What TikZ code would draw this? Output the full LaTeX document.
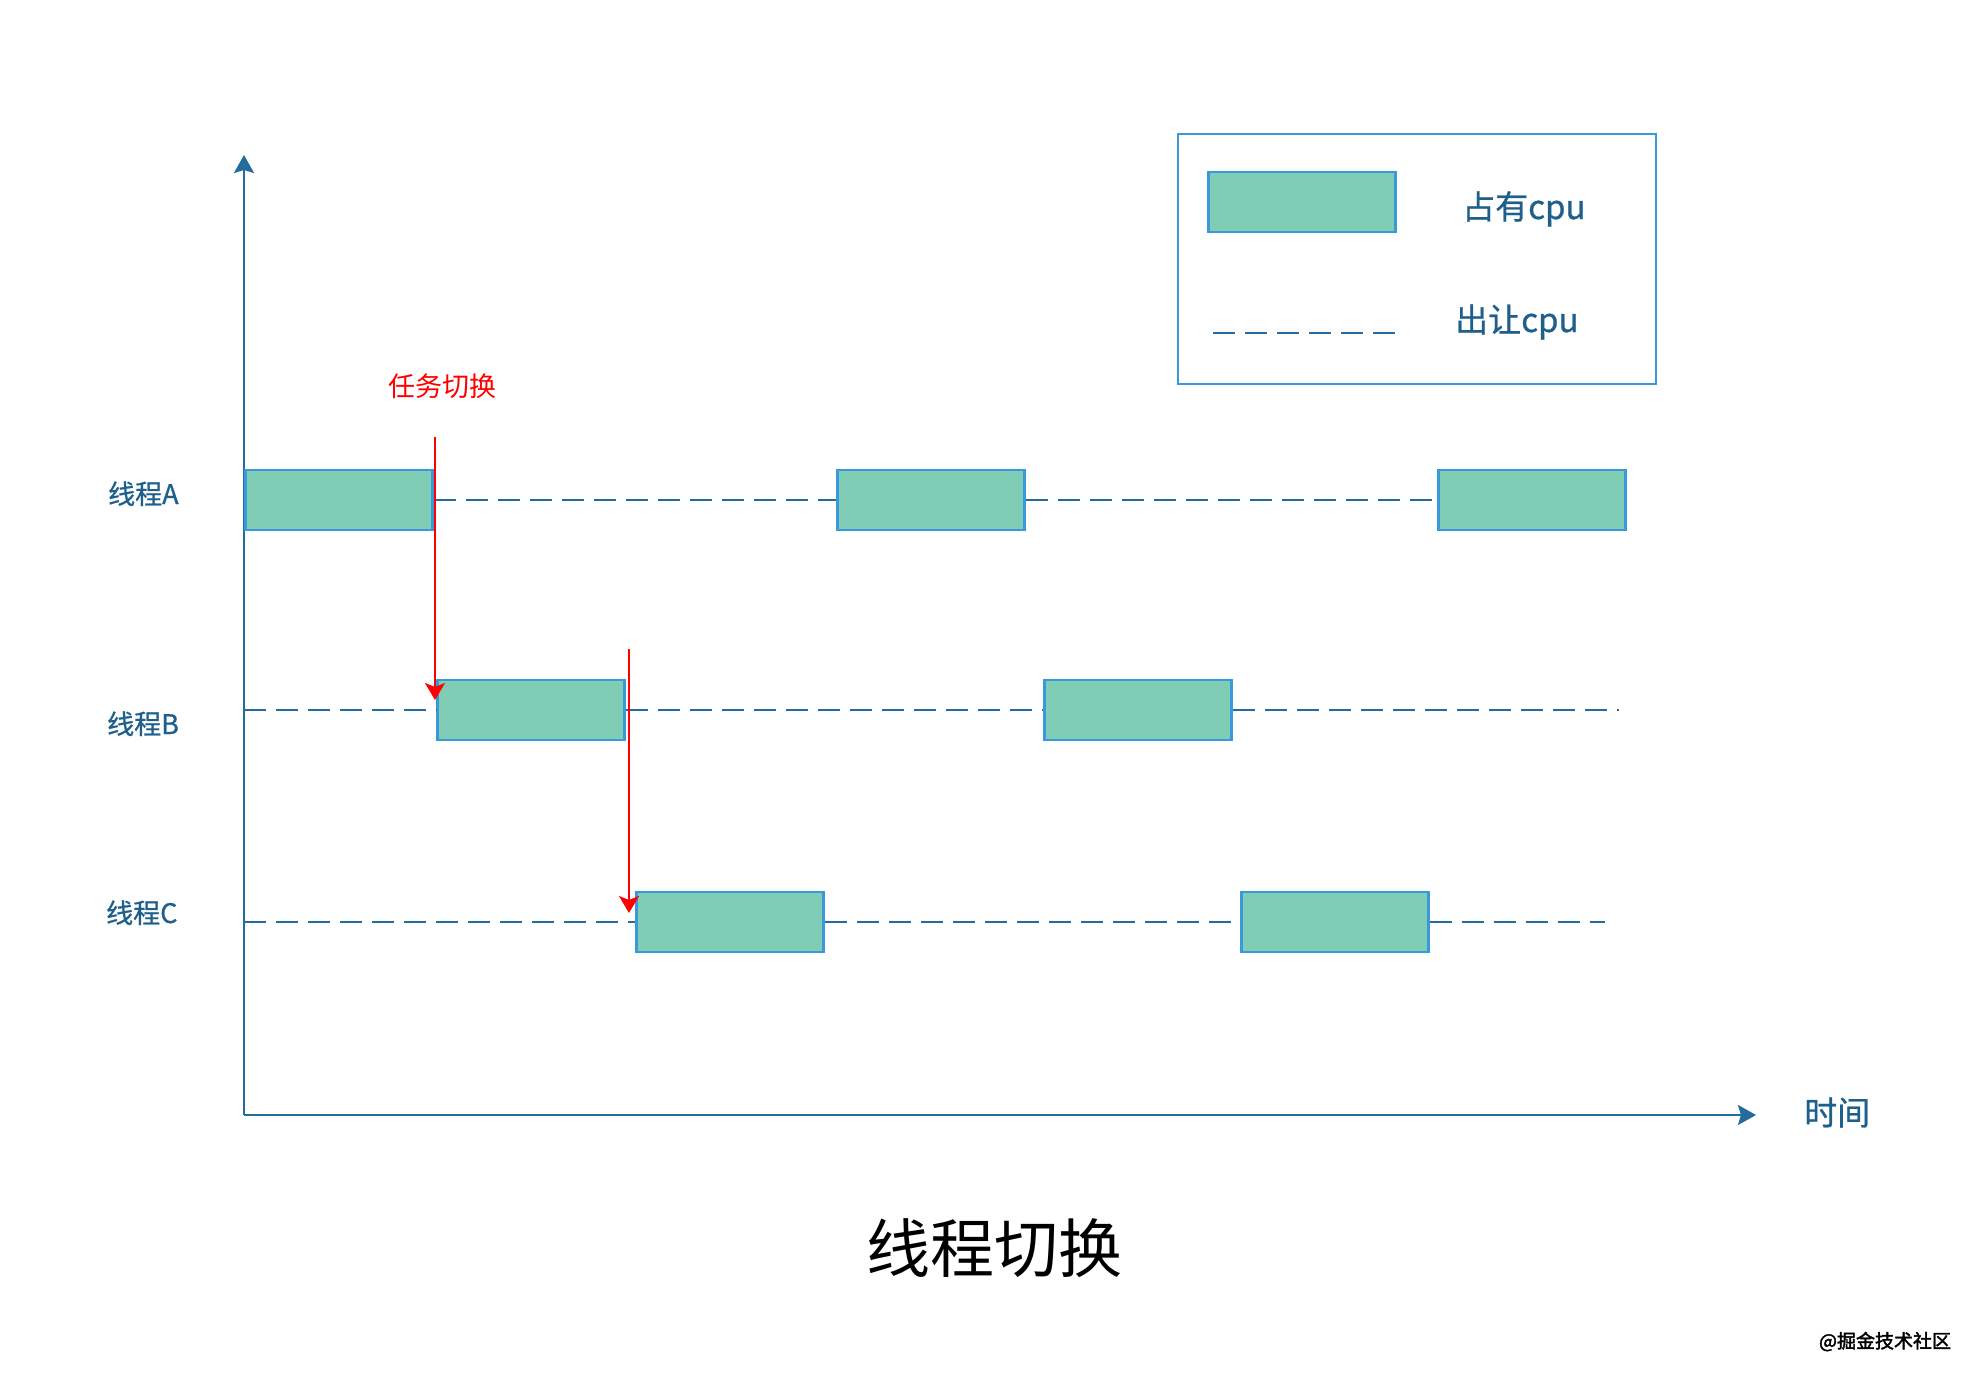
\documentclass[tikz,border=0pt]{standalone}
\usepackage{fontspec}
\setmainfont{Noto Sans CJK SC}
\newfontfamily\midfont[FakeBold=0.8]{Noto Sans CJK SC}
\newfontfamily\heavyfont[FakeBold=2]{Noto Sans CJK SC}
\usetikzlibrary{arrows.meta}
\definecolor{axisblue}{HTML}{236C9C}
\definecolor{textblue}{HTML}{1F5F8C}
\definecolor{boxblue}{HTML}{3A99DA}
\definecolor{boxgreen}{HTML}{80CDB6}

\begin{document}
\begin{tikzpicture}[x=1pt, y=-1pt,
    busy/.style = {draw=boxblue, fill=boxgreen, line width=2.5pt, minimum width=187pt, minimum height=60pt, inner sep=0pt},
    idle/.style = {draw=axisblue, line width=2.7pt, dash pattern=on 22pt off 10pt},
    label/.style = {anchor=base west, text=textblue, inner sep=0pt, font=\midfont\fontsize{27}{27}\selectfont},
    switch/.style = {draw=red, line width=2pt, -{Stealth[length=17pt, width=20pt, inset=4pt]}}]
    \useasboundingbox (0,0) rectangle (1984,1378);

    % axes
    \coordinate (O) at (244,1115);
    \coordinate (ytop) at (244,155);
    \coordinate (xend) at (1756,1115);
    \draw[axisblue, line width=2.5pt, -{Stealth[length=18pt, width=20pt, inset=3pt]}] (O) -- (ytop);
    \draw[axisblue, line width=2.5pt, -{Stealth[length=18pt, width=20pt, inset=3pt]}] (O) -- (xend);
    \node[label, font=\midfont\fontsize{33}{33}\selectfont] (time) at (1804,1125) {时间};

    % threads
    \node[label] (nameA) at (108,504) {线程A};
    \node[label] (nameB) at (107,734) {线程B};
    \node[label] (nameC) at (106,923) {线程C};

    \node[busy] (A1) at (339,500) {};
    \node[busy] (A2) at (931,500) {};
    \node[busy] (A3) at (1532,500) {};
    \node[busy] (B1) at (531,710) {};
    \node[busy] (B2) at (1138,710) {};
    \node[busy] (C1) at (730,922) {};
    \node[busy] (C2) at (1335,922) {};

    \coordinate (B0) at (244,710);
    \coordinate (B3) at (1619,710);
    \coordinate (C0) at (244,922);
    \coordinate (C3) at (1605,922);

    \draw[idle] (A1.east) -- (A2.west);
    \draw[idle] (A2.east) -- (A3.west);
    \draw[idle] (B0) -- (B1.west);
    \draw[idle] (B1.east) -- (B2.west);
    \draw[idle] (B2.east) -- (B3);
    \draw[idle] (C0) -- (C1.west);
    \draw[idle] (C1.east) -- (C2.west);
    \draw[idle] (C2.east) -- (C3);

    % task switches
    \node[label, text=red, font=\fontsize{27}{27}\selectfont] (task) at (388,396) {任务切换};
    \coordinate (s1) at (435,437);
    \coordinate (t1) at (435,700);
    \coordinate (s2) at (629,649);
    \coordinate (t2) at (629,913);
    \draw[switch] (s1) -- (t1);
    \draw[switch] (s2) -- (t2);

    % legend
    \node[draw=boxblue, line width=2.5pt, minimum width=478pt, minimum height=250pt] (legend) at (1417,259) {};
    \node[busy] (keybusy) at (1302,202) {};
    \node[label, font=\midfont\fontsize{33}{33}\selectfont] (keybusytext) at (1462,219) {占有cpu};
    \coordinate (k1) at (1213,333);
    \coordinate (k2) at (1395,333);
    \draw[idle] (k1) -- (k2);
    \node[label, font=\midfont\fontsize{33}{33}\selectfont] (keyidletext) at (1455,332) {出让cpu};

    \node[anchor=base, inner sep=0pt, font=\fontsize{64}{64}\selectfont] (title) at (994,1272) {线程切换};
    \node[anchor=base, inner sep=0pt, font=\heavyfont\fontsize{19}{19}\selectfont] (mark) at (1885,1348) {@掘金技术社区};
\end{tikzpicture}
\end{document}
